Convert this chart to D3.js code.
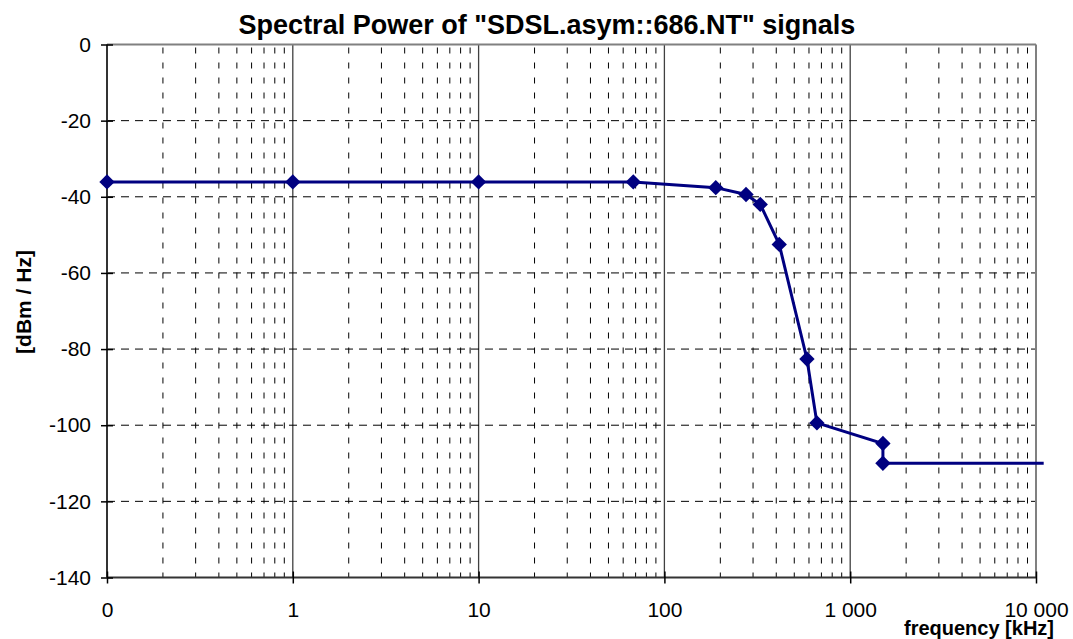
<!DOCTYPE html>
<head>
    <meta charset="utf-8">
    <script src="https://d3js.org/d3.v7.min.js"></script>
    <style>
        body { margin: 0; background: #fff; }
        svg text { font-family: "Liberation Sans", Arial, sans-serif; fill: #000; }
        .axis path { display: none; }
        .axis line { stroke: #000; stroke-width: 1.5px; }
        .axis text { font-size: 21px; }
    </style>
</head>

<body>
    <svg width="1073" height="639"></svg>
    <script>
        var width = 1073, height = 639;
        var margin = { left: 107, right: 37, top: 44.5, bottom: 61.5 };

        // values
        var freq = [0.1, 1, 10, 68, 189, 275, 328, 415, 585, 662, 1500, 1500, 11000];
        var psd = [-36.1, -36.1, -36.1, -36.1, -37.6, -39.4, -42, -52.5, -82.6, -99.4, -104.8, -110, -110];
        var xTicks = [0.1, 1, 10, 100, 1000, 10000];
        var xTickLabels = ["0", "1", "10", "100", "1 000", "10 000"];
        var yTicks = [0, -20, -40, -60, -80, -100, -120, -140];

        var data = freq.map((f, i) => ({ f: f, v: psd[i] }));

        var svg = d3.select("svg");

        var x = d3.scaleLog()
            .domain([0.1, 10000])
            .range([margin.left, width - margin.right]);
        var y = d3.scaleLinear()
            .domain([-140, 0])
            .range([height - margin.bottom, margin.top]);

        // minor vertical grid (2..9 of each decade)
        var minor = [];
        xTicks.slice(0, -1).forEach(d => {
            for (var k = 2; k <= 9; k++) minor.push(d * k);
        });

        var grid = svg.append("g");
        grid.selectAll(".minor")
            .data(minor)
            .enter().append("line")
            .attr("x1", d => x(d)).attr("x2", d => x(d))
            .attr("y1", y(0)).attr("y2", y(-140))
            .attr("stroke", "#000")
            .attr("stroke-width", 1)
            .attr("stroke-dasharray", "6,9")
            .attr("stroke-dashoffset", -3);

        grid.selectAll(".major")
            .data(xTicks.slice(1, -1))
            .enter().append("line")
            .attr("x1", d => x(d)).attr("x2", d => x(d))
            .attr("y1", y(0)).attr("y2", y(-140))
            .attr("stroke", "#404040")
            .attr("stroke-width", 1.3);

        grid.selectAll(".hgrid")
            .data(yTicks.slice(1, -1))
            .enter().append("line")
            .attr("x1", x(0.1)).attr("x2", x(10000))
            .attr("y1", d => y(d)).attr("y2", d => y(d))
            .attr("stroke", "#000")
            .attr("stroke-width", 1)
            .attr("stroke-dasharray", "8,6");

        // plot frame: top/right grey, left/bottom dark
        svg.append("line")
            .attr("x1", x(0.1)).attr("x2", x(10000))
            .attr("y1", y(0)).attr("y2", y(0))
            .attr("stroke", "#808080").attr("stroke-width", 2);
        svg.append("line")
            .attr("x1", x(10000)).attr("x2", x(10000))
            .attr("y1", y(0)).attr("y2", y(-140))
            .attr("stroke", "#808080").attr("stroke-width", 2);
        svg.append("line")
            .attr("x1", x(0.1)).attr("x2", x(0.1))
            .attr("y1", y(0)).attr("y2", y(-140))
            .attr("stroke", "#333").attr("stroke-width", 2);
        svg.append("line")
            .attr("x1", x(0.1)).attr("x2", x(10000))
            .attr("y1", y(-140)).attr("y2", y(-140))
            .attr("stroke", "#333").attr("stroke-width", 2);

        // axes with cross tick marks
        var yAxis = svg.append("g")
            .attr("class", "axis")
            .attr("transform", `translate(${x(0.1)},0)`)
            .call(d3.axisLeft(y).tickValues(yTicks).tickFormat(d => String(d))
                .tickSize(6).tickPadding(10));
        yAxis.selectAll(".tick line").attr("x1", 6);

        var xAxis = svg.append("g")
            .attr("class", "axis")
            .attr("transform", `translate(0,${y(-140)})`)
            .call(d3.axisBottom(x).tickValues(xTicks)
                .tickFormat((d, i) => xTickLabels[i]).tickSize(6).tickPadding(19));
        xAxis.selectAll(".tick line").attr("y1", -6);

        // series
        var line = d3.line()
            .x(d => x(d.f))
            .y(d => y(d.v));

        svg.append("path")
            .datum(data)
            .attr("fill", "none")
            .attr("stroke", "#000080")
            .attr("stroke-width", 3)
            .attr("d", line);

        var diamond = d3.symbol().type(d3.symbolDiamond2).size(150);
        svg.append("g")
            .selectAll("path")
            .data(data.filter(d => d.f <= 10000))
            .enter().append("path")
            .attr("transform", d => `translate(${x(d.f)},${y(d.v)})`)
            .attr("d", diamond)
            .attr("fill", "#000080");

        // titles
        svg.append("text")
            .attr("x", 547).attr("y", 34)
            .attr("text-anchor", "middle")
            .style("font-size", "27px")
            .style("font-weight", "bold")
            .text('Spectral Power of "SDSL.asym::686.NT" signals');

        svg.append("text")
            .attr("transform", "translate(31,302) rotate(-90)")
            .attr("text-anchor", "middle")
            .style("font-size", "21px")
            .style("font-weight", "bold")
            .text("[dBm / Hz]");

        svg.append("text")
            .attr("x", 1054).attr("y", 635)
            .attr("text-anchor", "end")
            .style("font-size", "20px")
            .style("font-weight", "bold")
            .text("frequency [kHz]");
    </script>
</body>
